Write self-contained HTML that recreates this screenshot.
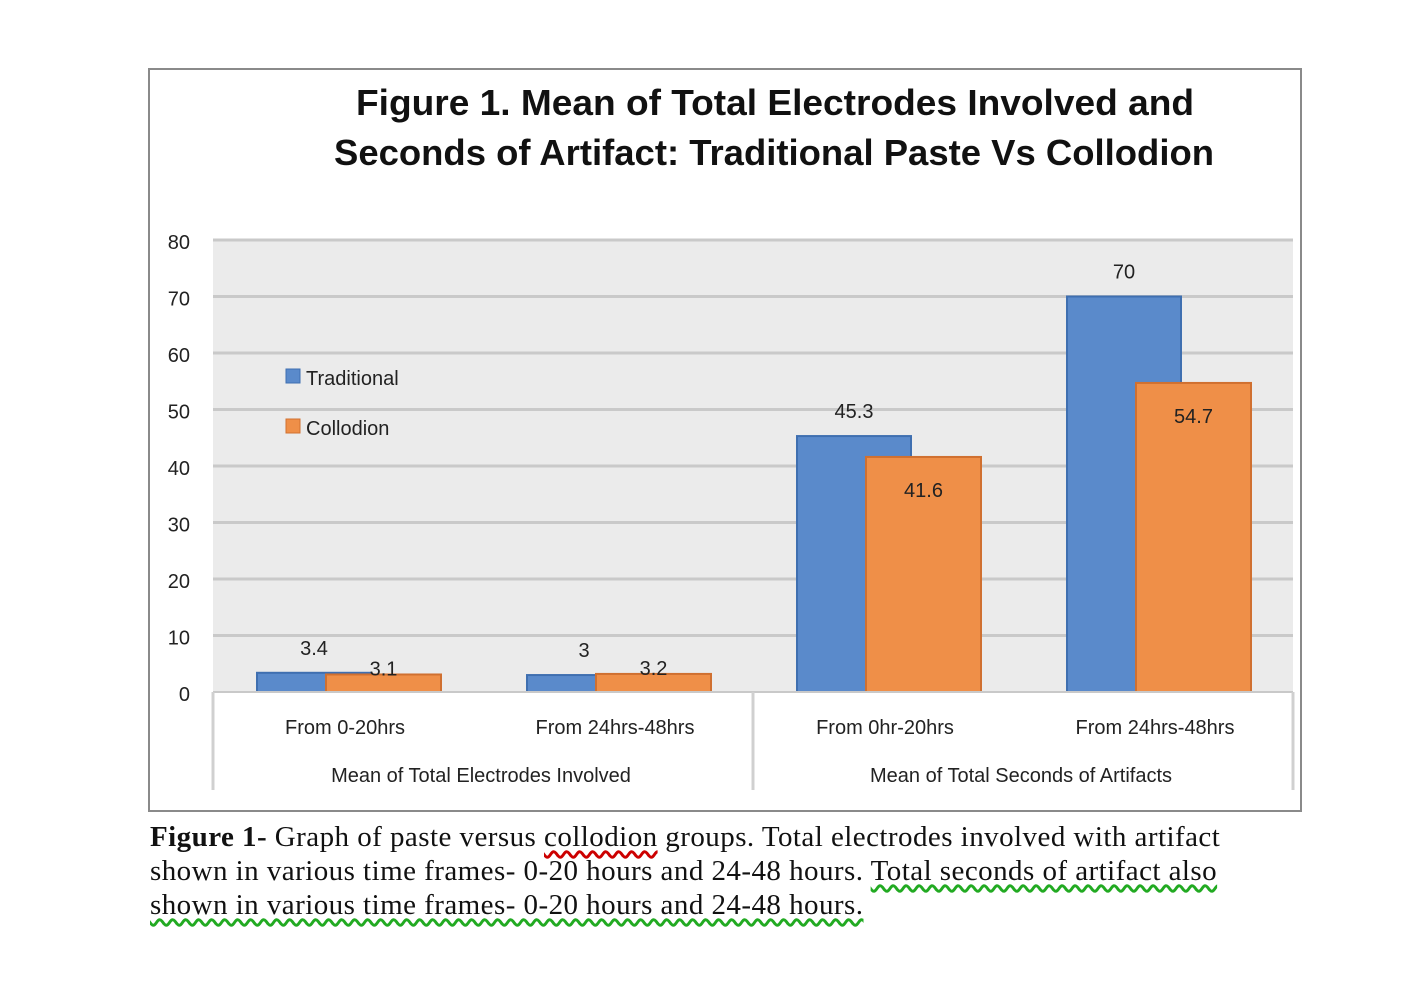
<!DOCTYPE html>
<html><head><meta charset="utf-8"><style>
body{margin:0;background:#fff;width:1421px;height:994px;overflow:hidden;}
svg text{font-family:"Liberation Sans",sans-serif;}
.cap{position:absolute;left:150px;top:820px;font-family:"Liberation Serif",serif;font-size:29px;line-height:34px;color:#111;white-space:nowrap;letter-spacing:0.45px}
.sq{text-decoration:underline wavy #c00;text-underline-offset:4px}
.gq{text-decoration:underline wavy #2a2;text-underline-offset:4px}
</style></head><body>
<svg id="chart" width="1421" height="994" style="position:absolute;left:0;top:0">
<rect x="149" y="69" width="1152" height="742" fill="#fff" stroke="#8a8a8a" stroke-width="2"/>
<text x="775" y="115" text-anchor="middle" font-size="36" font-weight="bold" fill="#111" textLength="838" lengthAdjust="spacingAndGlyphs">Figure 1. Mean of Total Electrodes Involved and</text>
<text x="774" y="165" text-anchor="middle" font-size="36" font-weight="bold" fill="#111" textLength="880" lengthAdjust="spacingAndGlyphs">Seconds of Artifact: Traditional Paste Vs Collodion</text>
<rect x="213" y="240" width="1080" height="452" fill="#ebebeb"/>
<g id="grid"></g><g id="bars"></g><g id="axes"></g>
<g>
<rect x="286" y="369" width="14" height="14" fill="#5a8acb" stroke="#3f6fb0"/>
<text x="306" y="385" font-size="20" fill="#222">Traditional</text>
<rect x="286" y="419" width="14" height="14" fill="#ef8f48" stroke="#d07030"/>
<text x="306" y="435" font-size="20" fill="#222">Collodion</text>
</g>
</svg>
<div class="cap"><b>Figure 1-</b> Graph of paste versus <span class="sq">collodion</span> groups. Total electrodes involved with artifact<br>shown in various time frames- 0-20 hours and 24-48 hours. <span class="gq">Total seconds of artifact also </span><br><span class="gq">shown in various time frames- 0-20 hours and 24-48 hours.</span></div>
<script>
const categories=["From 0-20hrs","From 24hrs-48hrs","From 0hr-20hrs","From 24hrs-48hrs"];
const groups=["Mean of Total Electrodes Involved","Mean of Total Seconds of Artifacts"];
const traditional=[3.4,3,45.3,70];
const collodion=[3.1,3.2,41.6,54.7];
const yTicks=[0,10,20,30,40,50,60,70,80];
const NS="http://www.w3.org/2000/svg";
const X0=213,X1=1293,Y0=692,Y1=240,YMAX=80;
const y=v=>Y0-(v/YMAX)*(Y0-Y1);
const bw=(X1-X0)/categories.length;
function mk(tag,attrs,parent,txt){const e=document.createElementNS(NS,tag);for(const k in attrs)e.setAttribute(k,attrs[k]);if(txt!==undefined)e.textContent=txt;document.getElementById(parent).appendChild(e);return e;}
yTicks.forEach(t=>{
 if(t>0){const l=mk('line',{x1:X0,x2:X1,y1:y(t),y2:y(t),stroke:'#c9c9c9','stroke-width':3},'grid');
 
 }
 const tx=mk('text',{x:190,y:y(t)+9,'text-anchor':'end','font-size':20,fill:'#222'},'axes',t);
 
 
});
function bar(i,v,off,w,fill,stroke,name,inside){
 const top=y(v);
 const r=mk('rect',{x:X0+bw*i+off,y:top,width:w,height:Y0-top,fill:fill,stroke:stroke,'stroke-width':2},'bars');
 
 
 const ly=inside?(v>10?top+40:top+1):top-18;
 const t=mk('text',{x:X0+bw*i+off+w/2,y:ly,'text-anchor':'middle','font-size':20,fill:'#222'},'bars',v);
 
 
}
categories.forEach((c,i)=>{
 bar(i,traditional[i],44,114,'#5a8acb','#3f6fb0','traditional',false);
 bar(i,collodion[i],113,115,'#ef8f48','#d07030','collodion',true);
 const t=mk('text',{x:X0+bw*i+bw/2-3,y:734,'text-anchor':'middle','font-size':20,fill:'#222'},'axes',c);
 
 
});
groups.forEach((g,j)=>{
 const t=mk('text',{x:X0+bw*2*j+bw-2,y:782,'text-anchor':'middle','font-size':20,fill:'#222'},'axes',g);
 
 
});
const ax=mk('line',{x1:X0,x2:X1,y1:Y0,y2:Y0,stroke:'#c9c9c9','stroke-width':2},'axes');


[0,2,4].forEach(k=>{
 const s=mk('line',{x1:X0+bw*k,x2:X0+bw*k,y1:Y0,y2:790,stroke:'#d0d0d0','stroke-width':3},'axes');
 
 
});
</script>
</body></html>
